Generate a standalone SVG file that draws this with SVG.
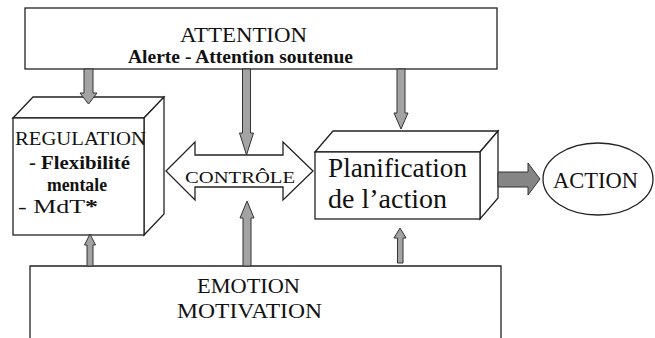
<svg xmlns="http://www.w3.org/2000/svg" width="655" height="338" viewBox="0 0 655 338">
<style>
.box{fill:#fff;stroke:#222;stroke-width:1.3}
.arr{fill:#a3a3a3;stroke:#333;stroke-width:1}
.dark{fill:#858585;stroke:#333;stroke-width:1}
.t{font-family:'Liberation Serif','Times New Roman',Tinos,'Noto Serif','DejaVu Serif',FreeSerif,'Nimbus Roman',Times,serif;fill:#111}
.b{font-weight:bold}
</style>
<rect width="655" height="338" fill="#fff"/>
<g id="attention">
<rect class="box" x="25" y="8" width="472" height="61"/>
<text class="t" x="243.5" y="42" font-size="21" text-anchor="middle" textLength="127" lengthAdjust="spacingAndGlyphs">ATTENTION</text>
<text class="t b" x="240.5" y="63" font-size="19" text-anchor="middle" textLength="225" lengthAdjust="spacingAndGlyphs">Alerte - Attention soutenue</text>
</g>
<g id="regulation">
<polygon class="box" points="13,118 33,97 164,97 144,118"/>
<polygon class="box" points="144,118 164,97 164,214 144,235"/>
<rect class="box" x="13" y="118" width="131" height="117"/>
<text class="t" x="15" y="145" font-size="18" textLength="131" lengthAdjust="spacingAndGlyphs">REGULATION</text>
<text class="t b" x="29" y="169" font-size="19" textLength="101" lengthAdjust="spacingAndGlyphs">- Flexibilité</text>
<text class="t b" x="47" y="191" font-size="19" textLength="60" lengthAdjust="spacingAndGlyphs">mentale</text>
<text class="t" x="18" y="213" font-size="19" textLength="80" lengthAdjust="spacingAndGlyphs">- MdT<tspan class="b">*</tspan></text>
</g>
<g id="controle">
<polygon class="box" points="166,171 195,142 195,155 283,155 283,142 313,171 283,200 283,187 195,187 195,200"/>
<text class="t" x="240" y="183" font-size="17" text-anchor="middle" textLength="110" lengthAdjust="spacingAndGlyphs">CONTRÔLE</text>
</g>
<g id="planification">
<polygon class="box" points="315,152 333,131 498,131 480,152"/>
<polygon class="box" points="480,152 498,131 498,198 480,219"/>
<rect class="box" x="315" y="152" width="165" height="67"/>
<text class="t" x="328" y="177" font-size="27" textLength="139" lengthAdjust="spacingAndGlyphs">Planification</text>
<text class="t" x="328" y="208" font-size="27" textLength="119" lengthAdjust="spacingAndGlyphs">de l’action</text>
</g>
<g id="action">
<ellipse class="box" cx="598" cy="179" rx="55" ry="36"/>
<text class="t" x="553" y="188" font-size="23" textLength="85" lengthAdjust="spacingAndGlyphs">ACTION</text>
</g>
<g id="emotion">
<path class="box" d="M30,345 V266 H501 V345"/>
<text class="t" x="248.5" y="293" font-size="22" text-anchor="middle" textLength="103" lengthAdjust="spacingAndGlyphs">EMOTION</text>
<text class="t" x="249.5" y="318" font-size="22" text-anchor="middle" textLength="145" lengthAdjust="spacingAndGlyphs">MOTIVATION</text>
</g>
<g id="connectors">
<polygon class="arr" points="84,69 93,69 93,93 97,93 88.5,104 80,93 84,93"/>
<polygon class="arr" points="242.5,69 250.5,69 250.5,133 253.5,133 246.5,155 239.5,133 242.5,133"/>
<polygon class="arr" points="397,69 405,69 405,113 408,113 401,129 394,113 397,113"/>
<polygon class="arr" points="87,266 93,266 93,245 95.5,245 90,234 84.5,245 87,245"/>
<polygon class="arr" points="243,266 251,266 251,218 254,218 247,201 240,218 243,218"/>
<polygon class="arr" points="397.5,263 403,263 403,238 406,238 400,228 394,238 397.5,238"/>
<polygon class="dark" points="498,172 528,172 528,163 540,179 528,195 528,187 498,187"/>
</g>
</svg>
